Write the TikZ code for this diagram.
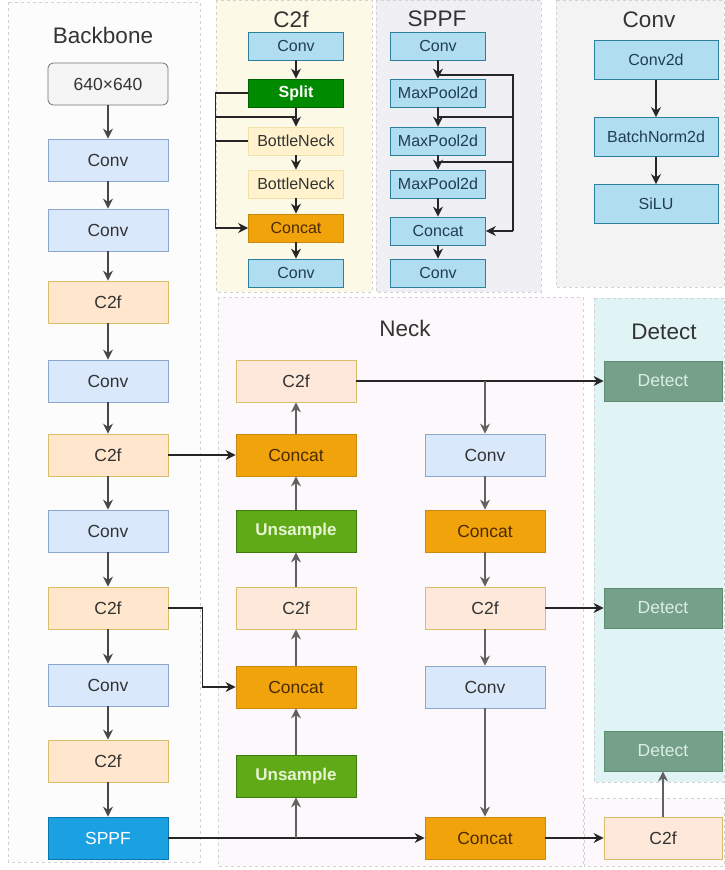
\documentclass[tikz,border=0pt]{standalone}
\usepackage{fontspec}
\setmainfont{Liberation Sans}
\usetikzlibrary{arrows.meta}
\definecolor{txt}{HTML}{333333}
\definecolor{convfill}{HTML}{DAE8FC}
\definecolor{convline}{HTML}{8DA6CC}
\definecolor{cffill}{HTML}{FFE6CC}
\definecolor{cfline}{HTML}{D9BE6A}
\definecolor{ncffill}{HTML}{FDE8DA}
\definecolor{catfill}{HTML}{F0A30A}
\definecolor{catline}{HTML}{C98A10}
\definecolor{cattxt}{HTML}{4D2B00}
\definecolor{upfill}{HTML}{60A917}
\definecolor{upline}{HTML}{3E7A10}
\definecolor{uptxt}{HTML}{E6F5D2}
\definecolor{sppffill}{HTML}{1BA1E2}
\definecolor{sppfline}{HTML}{0A78B0}
\definecolor{modfill}{HTML}{B1DDF0}
\definecolor{modline}{HTML}{2E7F9E}
\definecolor{modtxt}{HTML}{1F3F4F}
\definecolor{bnfill}{HTML}{FFF2CC}
\definecolor{bnline}{HTML}{F2E0A8}
\definecolor{splitfill}{HTML}{008A00}
\definecolor{detfill}{HTML}{76A08A}
\definecolor{detline}{HTML}{5E8C73}
\definecolor{dettxt}{HTML}{D8EFE2}
\definecolor{arrgray}{HTML}{474747}
\definecolor{panline}{HTML}{D2D2D2}
\begin{document}
\begin{tikzpicture}[>={Stealth[length=10pt, width=10pt]}, x=1pt, y=-1pt,
    box/.style={draw, line width=0.8pt, minimum width=120pt, minimum height=42pt, inner sep=0pt, text=txt, font=\fontsize{17.5}{20}\selectfont},
    convb/.style={box, fill=convfill, draw=convline},
    cfb/.style={box, fill=cffill, draw=cfline},
    ncfb/.style={box, fill=ncffill, draw=cfline},
    catb/.style={box, fill=catfill, draw=catline, text=cattxt},
    upb/.style={box, fill=upfill, draw=upline, text=uptxt, font=\fontsize{17}{20}\selectfont\bfseries},
    detb/.style={box, fill=detfill, draw=detline, text=dettxt, minimum width=118pt, minimum height=40pt},
    modb/.style={box, fill=modfill, draw=modline, text=modtxt, minimum width=95pt, minimum height=28pt, font=\fontsize{16}{18}\selectfont},
    panel/.style={draw=panline, dashed, line width=0.7pt},
    title/.style={text=txt, font=\fontsize{22.5}{26}\selectfont},
    arr/.style={->, line width=1.8pt, draw=arrgray},
    ln/.style={line width=1.1pt, draw=black!85}]
            \useasboundingbox (0,0) rectangle (724,870);
            \fill[white] (0,0) rectangle (724,870);

            \filldraw[panel, fill=white!99!black] (8,2) rectangle (200,862);
            \filldraw[panel, fill={rgb,255:red,252;green,250;blue,230}] (216,0) rectangle (372,292);
            \filldraw[panel, fill={rgb,255:red,239;green,239;blue,244}] (376,0) rectangle (541,292);
            \filldraw[panel, fill={rgb,255:red,243;green,243;blue,243}] (556,0) rectangle (724,287);
            \filldraw[panel, fill={rgb,255:red,253;green,248;blue,251}] (218,297) rectangle (583,866);
            \filldraw[panel, fill={rgb,255:red,224;green,244;blue,246}] (594,298) rectangle (724,782);
            \filldraw[panel, fill={rgb,255:red,253;green,248;blue,251}] (584,798) rectangle (724,866);

            \node[title] (tbb) at (103,35) {Backbone};
            \node[title] (tcf) at (291,19) {C2f};
            \node[title] (tsp) at (437,19) {SPPF};
            \node[title] (tcv) at (649,20) {Conv};
            \node[title] (tnk) at (405,328) {Neck};
            \node[title] (tdt) at (664,332) {Detect};

            \node[box, fill=white!96!black, draw=black!55, rounded corners=5pt] (inp) at (108,84) {640×640};
            \node[convb] (bconv1) at (108,160) {Conv};
            \node[convb] (bconv2) at (108,230) {Conv};
            \node[cfb] (bc2f1) at (108,302) {C2f};
            \node[convb] (bconv3) at (108,381) {Conv};
            \node[cfb] (bc2f2) at (108,455) {C2f};
            \node[convb] (bconv4) at (108,531) {Conv};
            \node[cfb] (bc2f3) at (108,608) {C2f};
            \node[convb] (bconv5) at (108,685) {Conv};
            \node[cfb] (bc2f4) at (108,761) {C2f};
            \node[box, fill=sppffill, draw=sppfline, text=white] (bsppf) at (108,838) {SPPF};

            \foreach \a/\b in {inp/bconv1, bconv1/bconv2, bconv2/bc2f1, bc2f1/bconv3, bconv3/bc2f2, bc2f2/bconv4, bconv4/bc2f3, bc2f3/bconv5, bconv5/bc2f4, bc2f4/bsppf}
                \draw[arr] (\a) -- (\b);

            \node[modb] (cconv1) at (296,46) {Conv};
            \node[modb, fill=splitfill, draw=splitfill!70!black, text=white, font=\fontsize{16}{18}\selectfont\bfseries] (csplit) at (296,93) {Split};
            \node[modb, fill=bnfill, draw=bnline, text=txt] (cbn1) at (296,141) {BottleNeck};
            \node[modb, fill=bnfill, draw=bnline, text=txt] (cbn2) at (296,184) {BottleNeck};
            \node[modb, fill=catfill, draw=catline, text=cattxt] (ccat) at (296,228) {Concat};
            \node[modb] (cconv2) at (296,273) {Conv};
            \foreach \a/\b in {cconv1/csplit, csplit/cbn1, cbn1/cbn2, cbn2/ccat, ccat/cconv2}
                \draw[->, line width=1.4pt, draw=black!85] (\a) -- (\b);
            \coordinate (ca) at (216,117);
            \coordinate (cb) at (216,141);
            \draw[ln, ->] (csplit.west) -- ++(-33,0) |- (ccat.west);
            \draw[ln] (ca) -- (ca -| csplit);
            \draw[ln] (cb) -- (cbn1.west);

            \node[modb] (sconv1) at (438,46) {Conv};
            \node[modb] (smp1) at (438,93) {MaxPool2d};
            \node[modb] (smp2) at (438,141) {MaxPool2d};
            \node[modb] (smp3) at (438,184) {MaxPool2d};
            \node[modb] (scat) at (438,231) {Concat};
            \node[modb] (sconv2) at (438,273) {Conv};
            \foreach \a/\b in {sconv1/smp1, smp1/smp2, smp2/smp3, smp3/scat, scat/sconv2}
                \draw[->, line width=1.4pt, draw=black!85] (\a) -- (\b);
            \coordinate (sj1) at (438,75);
            \coordinate (sj2) at (438,117);
            \coordinate (sj3) at (438,162);
            \coordinate (sr1) at (513,75);
            \coordinate (sr4) at (513,231);
            \draw[ln] (sj1) -- (sr1) -- (sr4);
            \draw[ln] (sj2) -- (sj2 -| sr1);
            \draw[ln] (sj3) -- (sj3 -| sr1);
            \draw[ln, ->] (sr4) -- (scat.east);

            \node[modb, minimum width=124pt, minimum height=39pt] (vconv) at (656,60) {Conv2d};
            \node[modb, minimum width=124pt, minimum height=39pt] (vbn) at (656,137) {BatchNorm2d};
            \node[modb, minimum width=124pt, minimum height=39pt] (vsilu) at (656,204) {SiLU};
            \draw[->, line width=1.1pt, draw=black!85] (vconv) -- (vbn);
            \draw[->, line width=1.1pt, draw=black!85] (vbn) -- (vsilu);

            \node[ncfb] (nc2f1) at (296,381) {C2f};
            \node[catb] (ncat1) at (296,455) {Concat};
            \node[upb] (nup1) at (296,531) {Unsample};
            \node[ncfb] (nc2f2) at (296,608) {C2f};
            \node[catb] (ncat2) at (296,687) {Concat};
            \node[upb] (nup2) at (296,776) {Unsample};
            \node[convb] (nconv1) at (485,455) {Conv};
            \node[catb] (ncat3) at (485,531) {Concat};
            \node[ncfb] (nc2f3) at (485,608) {C2f};
            \node[convb] (nconv2) at (485,687) {Conv};
            \node[catb] (ncat4) at (485,838) {Concat};

            \node[detb] (det1) at (663,381) {Detect};
            \node[detb] (det2) at (663,608) {Detect};
            \node[detb] (det3) at (663,751) {Detect};
            \node[ncfb, minimum width=118pt] (hc2f) at (663,838) {C2f};

            \foreach \a/\b in {nup2/ncat2, ncat2/nc2f2, nc2f2/nup1, nup1/ncat1, ncat1/nc2f1, nconv1/ncat3, ncat3/nc2f3, nc2f3/nconv2, nconv2/ncat4, hc2f/det3}
                \draw[arr, draw=black!62] (\a) -- (\b);

            \draw[ln, ->] (bc2f2.east) -- (ncat1.west);
            \draw[ln, ->] (bc2f3.east) -- ++(34,0) |- (ncat2.west);
            \draw[ln, ->] (bsppf.east) -- (ncat4.west);
            \draw[arr, draw=black!62] (nup2.south |- bsppf) -- (nup2.south);
            \draw[ln, ->] (nc2f1.east) -- (det1.west);
            \draw[arr, draw=black!62] (nc2f1.east -| nconv1) -- (nconv1.north);
            \draw[ln, ->] (nc2f3.east) -- (det2.west);
            \draw[ln, ->] (ncat4.east) -- (hc2f.west);
        \end{tikzpicture}
\end{document}
